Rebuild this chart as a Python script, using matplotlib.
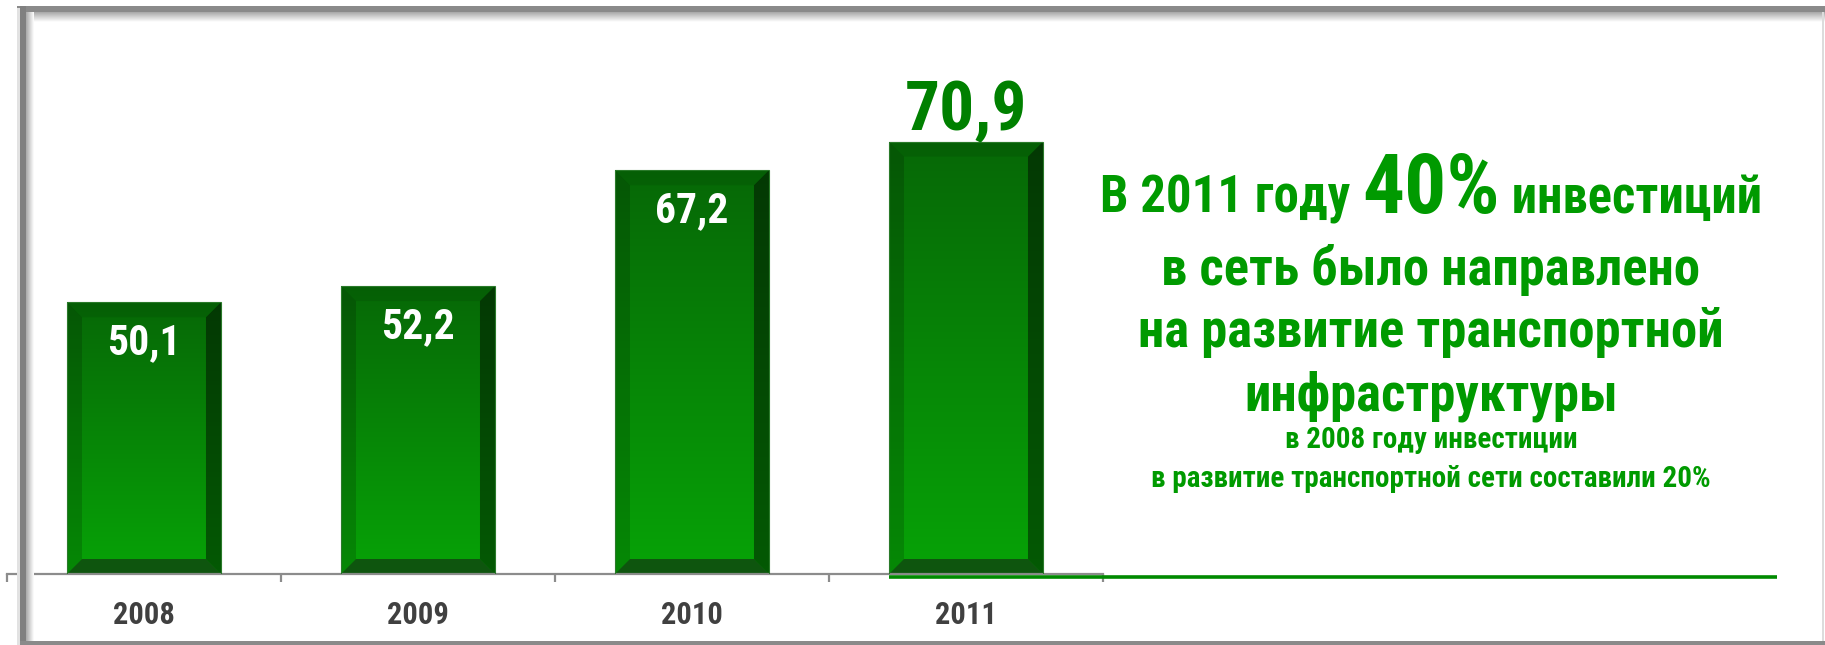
import matplotlib
matplotlib.use("Agg")
import matplotlib.pyplot as plt
import numpy as np
from matplotlib import font_manager
from matplotlib.colors import LinearSegmentedColormap
from matplotlib.patches import Polygon, Rectangle

# data
years = ["2008", "2009", "2010", "2011"]
values = [50.1, 52.2, 67.2, 70.9]
value_labels = ["50,1", "52,2", "67,2", "70,9"]

line1 = ["В 2011 году ", "40%", " инвестиций"]
big_lines = ["в сеть было направлено", "на развитие транспортной", "инфраструктуры"]
small_lines = ["в 2008 году инвестиции", "в развитие транспортной сети составили 20%"]

# condensed font if we have one
names = {f.name for f in font_manager.fontManager.ttflist}
font = "DejaVu Sans"
for cand in ["Liberation Sans Narrow", "Roboto Condensed", "Open Sans Condensed", "Liberation Sans"]:
    if cand in names:
        font = cand
        break
plt.rcParams["font.family"] = [font, "DejaVu Sans"]
plt.rcParams["font.weight"] = "bold"

W, H = 1825, 645
fig = plt.figure(figsize=(W / 100, H / 100), dpi=100)
fig.patch.set_facecolor("white")

ybot, ytop = 14.9, 86.66
ax = fig.add_axes([7 / W, 1 - 574 / H, 1096 / W, 554 / H])
ax.set_xlim(-0.5, 3.5)
ax.set_ylim(ybot, ytop)
ax.patch.set_alpha(0)
for s in ["top", "right", "left"]:
    ax.spines[s].set_visible(False)
ax.spines["bottom"].set_color("#8c8c8c")
ax.spines["bottom"].set_linewidth(1.6)
ax.set_yticks([])
x = np.arange(len(years))
ax.set_xticks(x)
ax.set_xticklabels(years, fontsize=22, color="#404040", fontweight="bold")
ax.tick_params(axis="x", which="major", length=0, pad=19)
ax.set_xticks(np.arange(-0.5, 4, 1), minor=True)
ax.tick_params(axis="x", which="minor", length=6, width=1.6, color="#8c8c8c")

bw = 0.562
bars = ax.bar(x, np.array(values) - ybot, bottom=ybot, width=bw,
              color="none", edgecolor="#2a7a2a", linewidth=0.8, zorder=3)

# bevel sizes in data units (about 15 px)
p0 = ax.transData.transform((0, ybot))
p1 = ax.transData.transform((1, ybot + 1))
bx = 15 / (p1[0] - p0[0])
by = 15 / (p1[1] - p0[1])

cmap = LinearSegmentedColormap.from_list("g", ["#066806", "#07a307"])
grad = np.linspace(0, 1, 256).reshape(-1, 1)
for b in bars:
    x0, y0 = b.get_x(), b.get_y()
    x1, y1 = x0 + b.get_width(), y0 + b.get_height()
    im = ax.imshow(grad, cmap=cmap, extent=(x0, x1, y0, y1), origin="upper",
                   aspect="auto", zorder=2)
    im.set_clip_path(b)
    ax.add_patch(Polygon([(x0, y1), (x1, y1), (x1 - bx, y1 - by), (x0 + bx, y1 - by)],
                         closed=True, color="black", alpha=0.08, lw=0, zorder=2.5))
    ax.add_patch(Polygon([(x0, y0), (x1, y0), (x1 - bx, y0 + by), (x0 + bx, y0 + by)],
                         closed=True, color="#0e550e", lw=0, zorder=2.5))
    ax.add_patch(Polygon([(x0, y0), (x0 + bx, y0 + by), (x0 + bx, y1 - by), (x0, y1)],
                         closed=True, color="black", alpha=0.16, lw=0, zorder=2.5))
    ax.add_patch(Polygon([(x1, y0), (x1 - bx, y0 + by), (x1 - bx, y1 - by), (x1, y1)],
                         closed=True, color="black", alpha=0.45, lw=0, zorder=2.5))
ax.set_xlim(-0.5, 3.5)
ax.set_ylim(ybot, ytop)

# value labels
for i, (v, lab) in enumerate(zip(values, value_labels)):
    if i < len(values) - 1:
        ax.annotate(lab, (x[i], v), xytext=(0, -37.5), textcoords="offset points",
                    ha="center", va="baseline", color="white", fontsize=30,
                    fontweight="bold", zorder=5)
    else:
        ax.annotate(lab, (x[i], v), xytext=(0, 8), textcoords="offset points",
                    ha="center", va="baseline", color="#008000", fontsize=50,
                    fontweight="bold", zorder=5)

# green line under the right part
xl = x[-1] - bw / 2
xr = (1777 - 7) / 274 - 0.5
ax.plot([xl, xr], [ybot - 2.5 / (p1[1] - p0[1])] * 2, color="#008a00", lw=2.6,
        clip_on=False, solid_capstyle="butt", zorder=4)

# right-hand text
green = "#009a00"
cx = 1431
renderer = fig.canvas.get_renderer()
sizes = [36.5, 60, 36.5]
parts = []
for t, s in zip(line1, sizes):
    parts.append(fig.text(0, 1 - 213 / H, t, fontsize=s, color=green,
                          ha="left", va="baseline", fontweight="bold"))
widths = [p.get_window_extent(renderer).width for p in parts]
xs = cx - sum(widths) / 2
for p, w in zip(parts, widths):
    p.set_x(xs / W)
    xs += w
for t, yb in zip(big_lines, [285, 347, 410]):
    fig.text(cx / W, 1 - yb / H, t, fontsize=38, color=green, ha="center",
             va="baseline", fontweight="bold")
for t, yb in zip(small_lines, [448, 487]):
    fig.text(cx / W, 1 - yb / H, t, fontsize=21, color=green, ha="center",
             va="baseline", fontweight="bold")

# picture frame
fr = fig.add_axes([0, 0, 1, 1], zorder=10)
fr.set_xlim(0, W)
fr.set_ylim(H, 0)
fr.axis("off")
fr.patch.set_alpha(0)
shade = LinearSegmentedColormap.from_list("s", ["#a8a8a8", "#ffffff"])
fr.imshow(np.linspace(0, 1, 64).reshape(-1, 1), cmap=shade, extent=(20, W, 22, 12),
          aspect="auto")
fr.imshow(np.linspace(0, 1, 64).reshape(1, -1), cmap=shade, extent=(26, 34, H - 4, 12),
          aspect="auto")
fr.add_patch(Rectangle((17, 6), W - 17, 6, color="#8a8a8a", lw=0))
fr.add_patch(Rectangle((20, 6), 6, H - 6, color="#808080", lw=0))
fr.add_patch(Rectangle((17, 8), 3, H - 8, color="#e2e2e2", lw=0))
fr.add_patch(Rectangle((20, H - 4), W - 20, 4, color="#8a8a8a", lw=0))
fr.add_patch(Rectangle((W - 3, 12), 2, H - 16, color="#dcdcdc", lw=0))
fr.set_xlim(0, W)
fr.set_ylim(H, 0)

fig.savefig("out.png", dpi=100)
